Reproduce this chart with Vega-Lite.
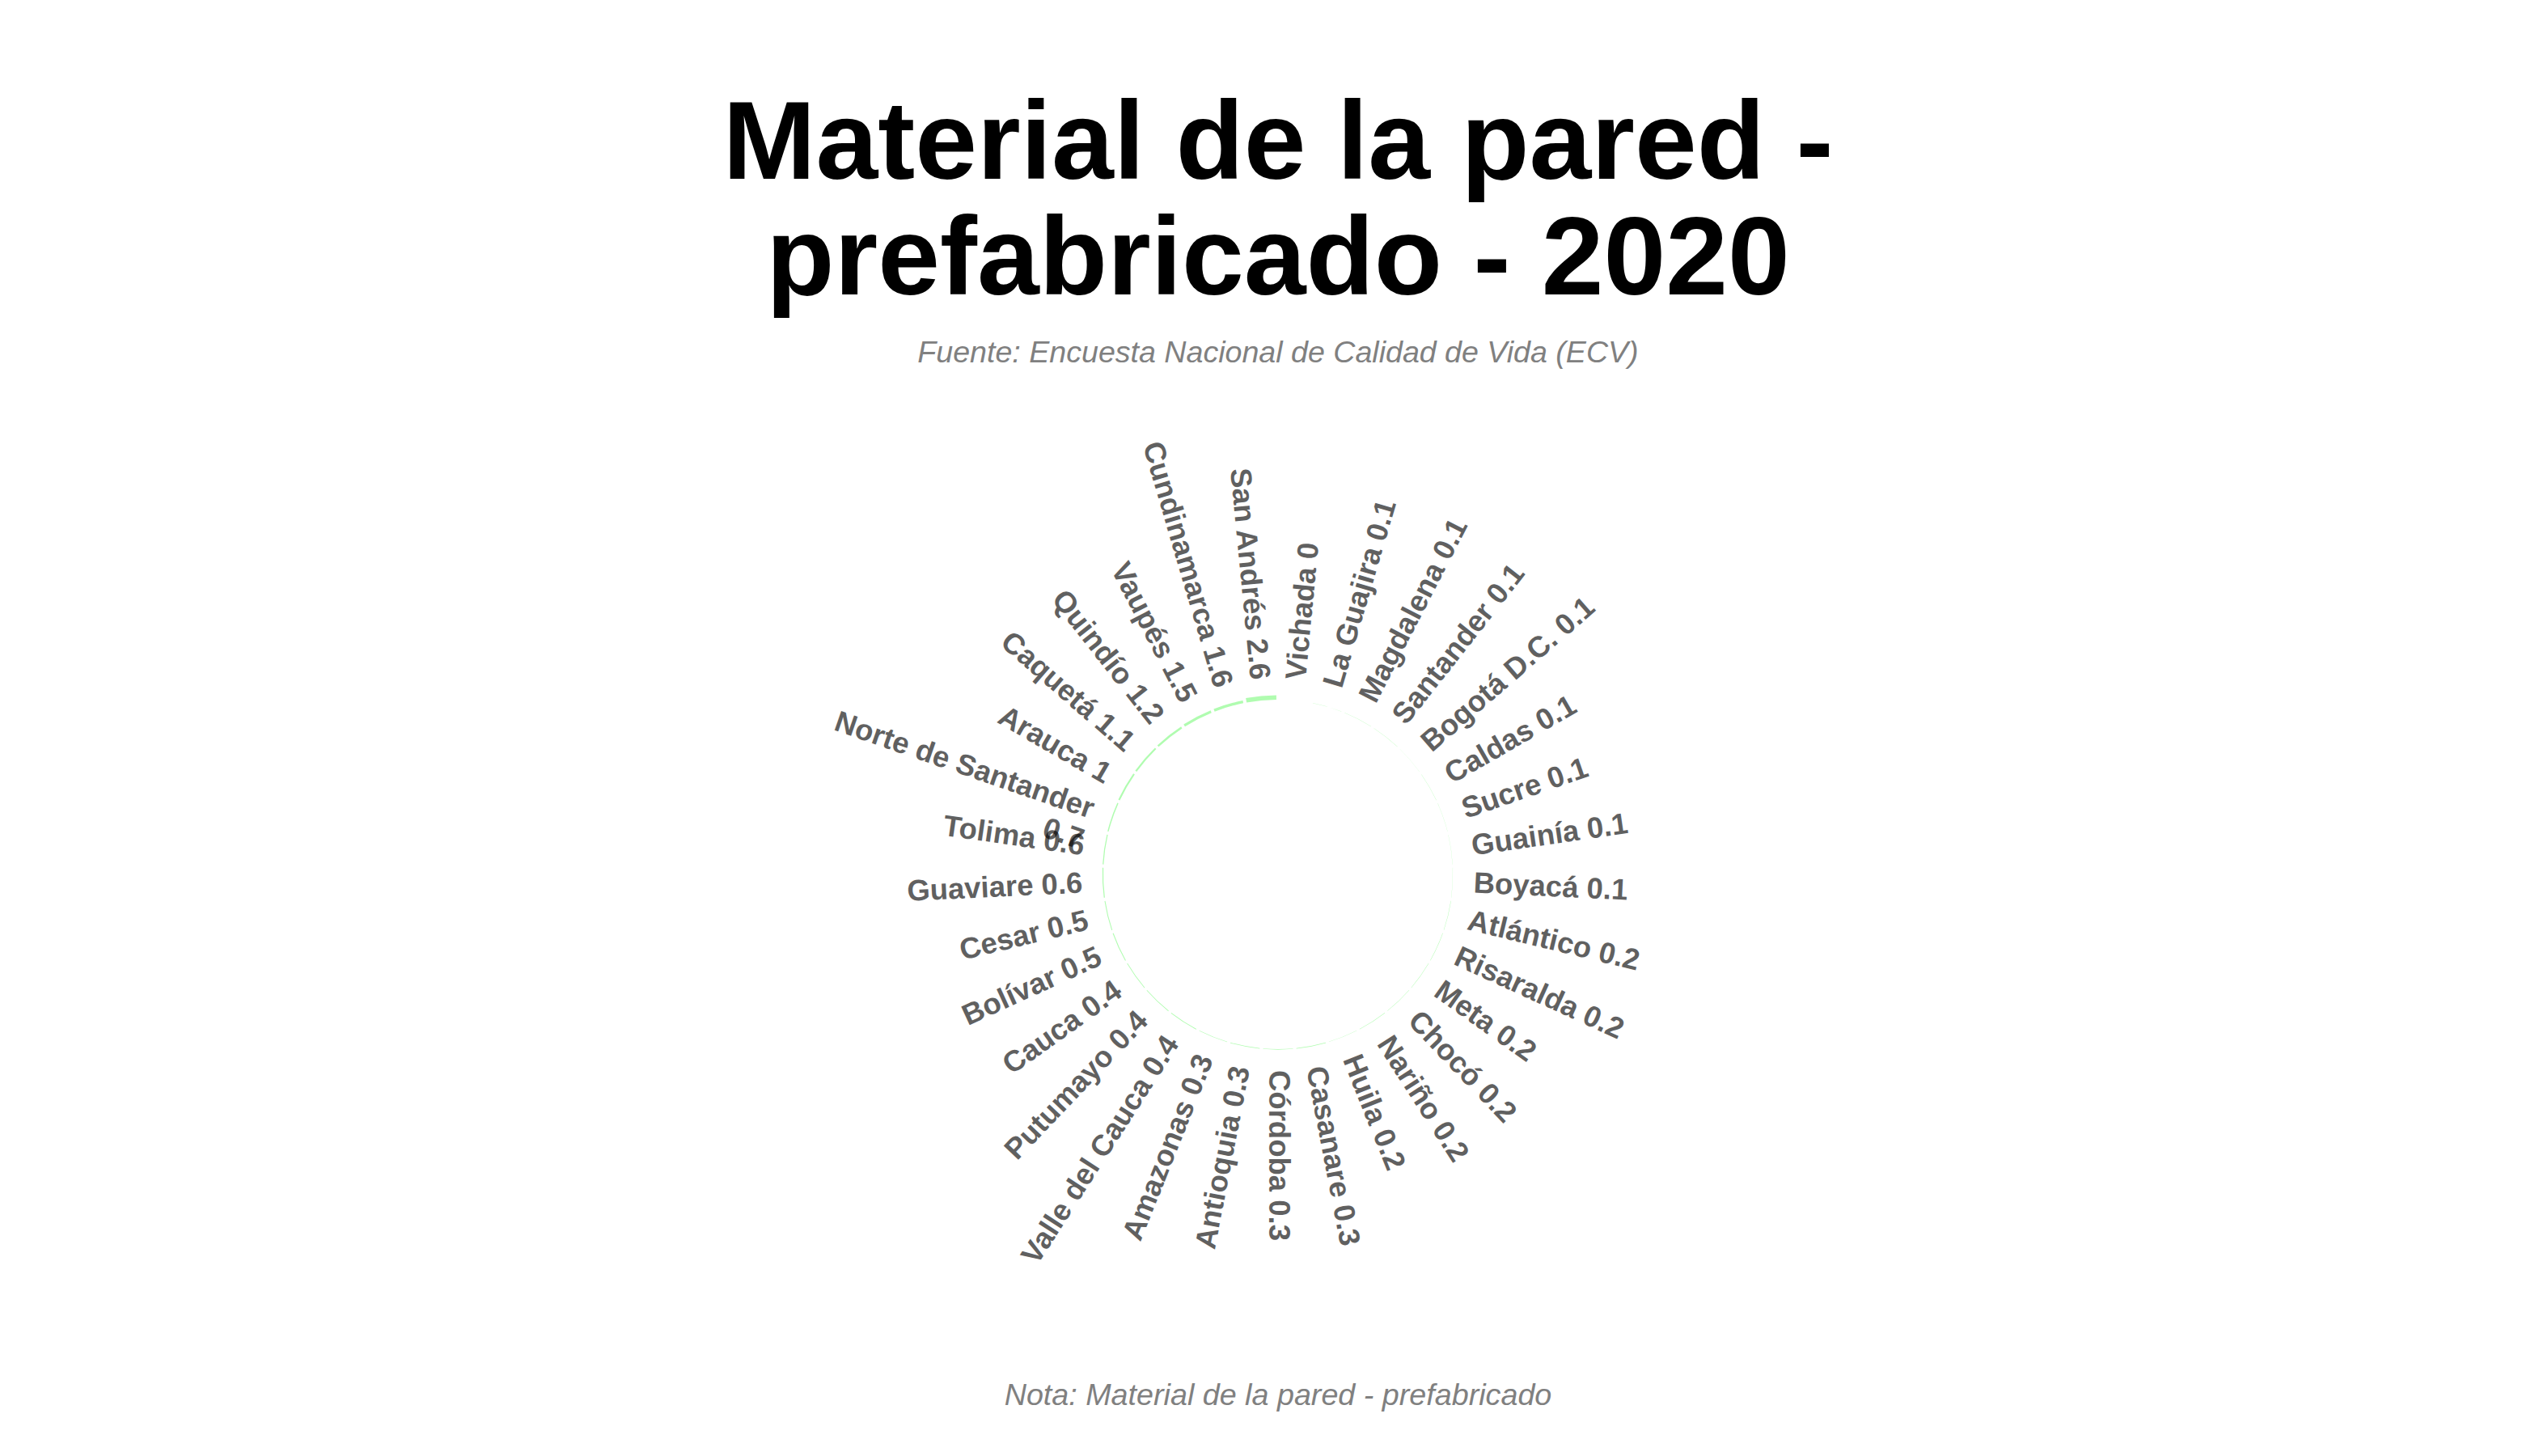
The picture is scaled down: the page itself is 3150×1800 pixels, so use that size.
{
  "$schema": "https://vega.github.io/schema/vega-lite/v6.json",
  "background": "white",
  "padding": {"left": 10, "right": 0, "top": 111, "bottom": 0},
  "title": {
    "text": ["Material de la pared -", "prefabricado - 2020"],
    "subtitle": "Fuente: Encuesta Nacional de Calidad de Vida (ECV)",
    "anchor": "middle",
    "font": "Liberation Sans",
    "fontSize": 138,
    "fontWeight": "bold",
    "color": "black",
    "lineHeight": 143,
    "subtitleFont": "Liberation Sans",
    "subtitleFontSize": 37.6,
    "subtitleFontStyle": "italic",
    "subtitleColor": "#808080",
    "subtitlePadding": 25,
    "offset": 74
  },
  "config": {"view": {"stroke": null}, "concat": {"spacing": 0}},
  "vconcat": [
    {
      "width": 3140,
      "height": 1100,
      "title": {
        "text": "Nota: Material de la pared - prefabricado",
        "orient": "bottom",
        "anchor": "middle",
        "font": "Liberation Sans",
        "fontStyle": "italic",
        "fontWeight": "normal",
        "fontSize": 37.7,
        "color": "#808080",
        "offset": 76
      },
      "data": {
        "values": [
          {"departamento": "Vichada", "valor": 0},
          {"departamento": "La Guajira", "valor": 0.1},
          {"departamento": "Magdalena", "valor": 0.1},
          {"departamento": "Santander", "valor": 0.1},
          {"departamento": "Bogotá D.C.", "valor": 0.1},
          {"departamento": "Caldas", "valor": 0.1},
          {"departamento": "Sucre", "valor": 0.1},
          {"departamento": "Guainía", "valor": 0.1},
          {"departamento": "Boyacá", "valor": 0.1},
          {"departamento": "Atlántico", "valor": 0.2},
          {"departamento": "Risaralda", "valor": 0.2},
          {"departamento": "Meta", "valor": 0.2},
          {"departamento": "Chocó", "valor": 0.2},
          {"departamento": "Nariño", "valor": 0.2},
          {"departamento": "Huila", "valor": 0.2},
          {"departamento": "Casanare", "valor": 0.3},
          {"departamento": "Córdoba", "valor": 0.3},
          {"departamento": "Antioquia", "valor": 0.3},
          {"departamento": "Amazonas", "valor": 0.3},
          {"departamento": "Valle del Cauca", "valor": 0.4},
          {"departamento": "Putumayo", "valor": 0.4},
          {"departamento": "Cauca", "valor": 0.4},
          {"departamento": "Bolívar", "valor": 0.5},
          {"departamento": "Cesar", "valor": 0.5},
          {"departamento": "Guaviare", "valor": 0.6},
          {"departamento": "Tolima", "valor": 0.6},
          {"departamento": "Norte de Santander", "valor": 0.7},
          {"departamento": "Arauca", "valor": 1},
          {"departamento": "Caquetá", "valor": 1.1},
          {"departamento": "Quindío", "valor": 1.2},
          {"departamento": "Vaupés", "valor": 1.5},
          {"departamento": "Cundinamarca", "valor": 1.6},
          {"departamento": "San Andrés", "valor": 2.6}
        ]
      },
      "transform": [
        {"window": [{"op": "row_number", "as": "i"}]},
        {"calculate": "datum.i - 0.95", "as": "t0"},
        {"calculate": "datum.i - 0.05", "as": "t1"},
        {"calculate": "datum.i - 0.5", "as": "tm"},
        {"calculate": "datum.tm * 360 / 33", "as": "deg"},
        {"calculate": "datum.deg <= 180 ? datum.deg - 90 : datum.deg - 270", "as": "ang"},
        {"calculate": "datum.departamento == 'Norte de Santander' ? datum.departamento + '\\n' + datum.valor : datum.departamento + ' ' + datum.valor", "as": "etiqueta"}
      ],
      "layer": [
        {
          "mark": {"type": "arc", "innerRadius": 216, "fill": "#b0fcb0", "stroke": null},
          "encoding": {
            "theta": {"field": "t0", "type": "quantitative", "stack": null, "scale": {"domain": [0, 33], "range": [0, 6.283185307179586]}},
            "theta2": {"field": "t1"},
            "radius": {"field": "valor", "type": "quantitative", "scale": {"type": "linear", "domain": [0, 2.6], "range": [216, 221.5]}}
          }
        },
        {
          "transform": [{"filter": "datum.deg <= 180"}],
          "mark": {"type": "text", "radius": 242, "align": "left", "baseline": "middle", "font": "Liberation Sans", "fontWeight": "bold", "fontSize": 36.5, "fill": "black", "opacity": 0.62, "lineBreak": "\n", "lineHeight": 40},
          "encoding": {
            "theta": {"field": "tm", "type": "quantitative", "stack": null, "scale": {"domain": [0, 33], "range": [0, 6.283185307179586]}},
            "angle": {"field": "ang", "type": "quantitative", "scale": null},
            "text": {"field": "etiqueta", "type": "nominal"}
          }
        },
        {
          "transform": [{"filter": "datum.deg > 180"}],
          "mark": {"type": "text", "radius": 242, "align": "right", "baseline": "middle", "font": "Liberation Sans", "fontWeight": "bold", "fontSize": 36.5, "fill": "black", "opacity": 0.62, "lineBreak": "\n", "lineHeight": 40},
          "encoding": {
            "theta": {"field": "tm", "type": "quantitative", "stack": null, "scale": {"domain": [0, 33], "range": [0, 6.283185307179586]}},
            "angle": {"field": "ang", "type": "quantitative", "scale": null},
            "text": {"field": "etiqueta", "type": "nominal"}
          }
        }
      ]
    }
  ]
}
